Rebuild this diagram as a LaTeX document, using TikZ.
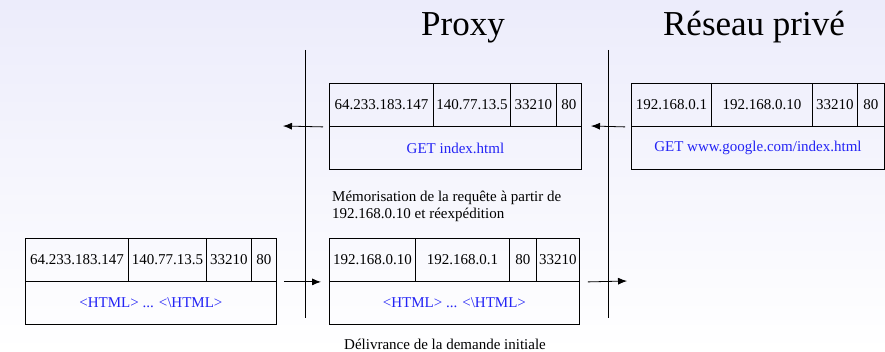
\documentclass[tikz,border=0pt]{standalone}
\usepackage{fontspec}
\setmainfont{Liberation Serif}
\usetikzlibrary{arrows.meta}
\definecolor{bgtop}{RGB}{236,236,251}
\definecolor{msgblue}{RGB}{35,35,245}

\begin{document}
\begin{tikzpicture}[x=1pt, y=-1pt,
  cell/.style={draw, line width=0.9pt, anchor=north west, inner sep=0pt, minimum height=43pt, font=\fontsize{15}{17}\selectfont},
  body/.style={cell, text=msgblue},
  flow/.style={line width=0.8pt, -{Latex[length=9pt,width=7pt]}},
  wall/.style={line width=0.9pt},
  note/.style={inner sep=0pt, font=\fontsize{15}{17}\selectfont}]
  \shade[top color=bgtop, bottom color=white] (0,0) rectangle (885,352);

  % titles
  \node[anchor=base, inner sep=0pt, font=\fontsize{35}{40}\selectfont] (proxy) at (463,36) {Proxy};
  \node[anchor=base, inner sep=0pt, font=\fontsize{35}{40}\selectfont] (prive) at (754,36) {Réseau privé};

  % walls
  \coordinate (w1top) at (305,50);
  \coordinate (w1bot) at (305,318);
  \coordinate (w2top) at (608,50);
  \coordinate (w2bot) at (608,318);
  \draw[wall] (w1top) -- (w1bot);
  \draw[wall] (w2top) -- (w2bot);

  % request seen by the proxy
  \node[cell, minimum width=104pt] (A1) at (329,83) {64.233.183.147};
  \node[cell, minimum width=77pt] (A2) at (433,83) {140.77.13.5};
  \node[cell, minimum width=46pt] (A3) at (510,83) {33210};
  \node[cell, minimum width=25pt] (A4) at (556,83) {80};
  \node[body, minimum width=252pt] (A5) at (329,126) {GET index.html};

  % request from the private network
  \node[cell, minimum width=80pt] (B1) at (631,83) {192.168.0.1};
  \node[cell, minimum width=101pt] (B2) at (711,83) {192.168.0.10};
  \node[cell, minimum width=45pt] (B3) at (812,83) {33210};
  \node[cell, minimum width=27pt] (B4) at (857,83) {80};
  \node[body, minimum width=253pt] (B5) at (631,126) {GET www.google.com/index.html};

  % answer from outside
  \node[cell, minimum width=103pt] (C1) at (25,238) {64.233.183.147};
  \node[cell, minimum width=78pt] (C2) at (128,238) {140.77.13.5};
  \node[cell, minimum width=45pt] (C3) at (206,238) {33210};
  \node[cell, minimum width=25pt] (C4) at (251,238) {80};
  \node[body, minimum width=251pt] (C5) at (25,281) {<HTML> ... <\textbackslash HTML>};

  % answer sent back
  \node[cell, minimum width=86pt] (D1) at (329,238) {192.168.0.10};
  \node[cell, minimum width=94pt] (D2) at (415,238) {192.168.0.1};
  \node[cell, minimum width=27pt] (D3) at (509,238) {80};
  \node[cell, minimum width=43pt] (D4) at (536,238) {33210};
  \node[body, minimum width=250pt] (D5) at (329,281) {<HTML> ... <\textbackslash HTML>};

  % notes
  \node[note, anchor=base west, align=left] (memo) at (332,219) {Mémorisation de la requête à partir de\\192.168.0.10 et réexpédition};
  \node[note, anchor=base] (deliv) at (445,349) {Délivrance de la demande initiale};

  % arrows
  \coordinate (tipA) at (283,126);
  \coordinate (tipB) at (591,126);
  \coordinate (tipD) at (627,281);
  \draw[flow] ([xshift=-6pt]A1.south west) -- (tipA);
  \draw[flow] ([xshift=-6pt]B1.south west) -- (tipB);
  \draw[flow] ([xshift=7pt]C4.south east) -- ([xshift=-8pt]D1.south west);
  \draw[flow] ([xshift=8pt]D4.south east) -- (tipD);
\end{tikzpicture}
\end{document}
